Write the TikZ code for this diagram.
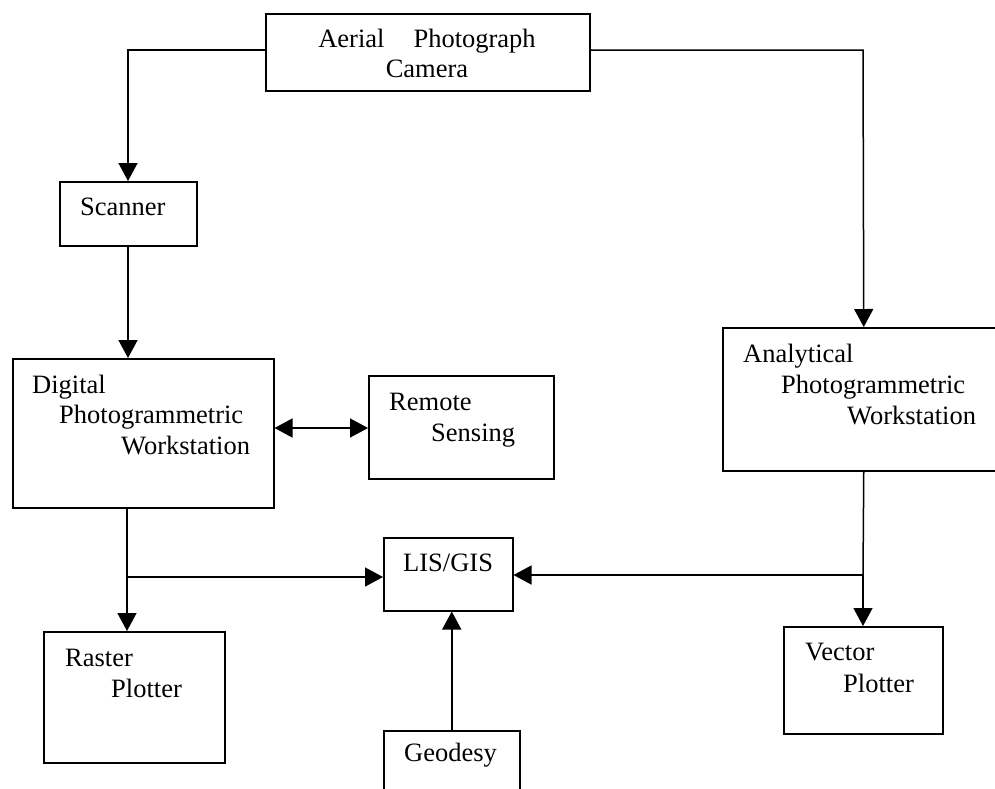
\documentclass[tikz,border=0pt]{standalone}
\usepackage{fontspec}
\setmainfont{Liberation Serif}
\usetikzlibrary{arrows.meta}
\begin{document}
\begin{tikzpicture}[x=1pt,y=-1pt,
  box/.style={draw, line width=1.5pt, inner sep=0pt, anchor=north west},
  lbl/.style={inner sep=0pt, anchor=base west, font=\fontsize{26.5}{30.5}\selectfont},
  conn/.style={line width=1.5pt},
  arr/.style={conn, -{Triangle[length=18pt,width=19pt]}},
  darr/.style={conn, {Triangle[length=18pt,width=19pt]}-{Triangle[length=18pt,width=19pt]}}]
\useasboundingbox (0,0) rectangle (995,788);
\clip (0,0) rectangle (995,788);
% boxes
\node[box, minimum width=324pt, minimum height=77pt] (cam) at (265,13) {};
\node[box, minimum width=137pt, minimum height=64pt] (scan) at (59,181) {};
\node[box, minimum width=261pt, minimum height=149pt] (dpw) at (12,358) {};
\node[box, minimum width=185pt, minimum height=103pt] (rs) at (368,375) {};
\node[box, minimum width=282pt, minimum height=143pt] (apw) at (722,327) {};
\node[box, minimum width=129pt, minimum height=73pt] (lis) at (383,537) {};
\node[box, minimum width=136pt, minimum height=80pt] (geo) at (383,730) {};
\node[box, minimum width=181pt, minimum height=131pt] (rp) at (43,631) {};
\node[box, minimum width=159pt, minimum height=107pt] (vp) at (783,626) {};
% texts
\node[lbl, anchor=base] (cam-t1) at (427,47) {Aerial\hspace{29pt}Photograph};
\node[lbl, anchor=base] (cam-t2) at (427,77) {Camera};
\node[lbl] (scan-t) at (80,215) {Scanner};
\node[lbl] (dpw-t1) at (32,393) {Digital};
\node[lbl] (dpw-t2) at (59,423) {Photogrammetric};
\node[lbl] (dpw-t3) at (121,454) {Workstation};
\node[lbl] (rs-t1) at (389,410) {Remote};
\node[lbl] (rs-t2) at (431,441) {Sensing};
\node[lbl] (apw-t1) at (743,362) {Analytical};
\node[lbl] (apw-t2) at (781,393) {Photogrammetric};
\node[lbl] (apw-t3) at (847,424) {Workstation};
\node[lbl] (lis-t) at (403,571) {LIS/GIS};
\node[lbl] (geo-t) at (404,761) {Geodesy};
\node[lbl] (rp-t1) at (65,666) {Raster};
\node[lbl] (rp-t2) at (111,697) {Plotter};
\node[lbl] (vp-t1) at (805,660) {Vector};
\node[lbl] (vp-t2) at (843,692) {Plotter};
% junctions
\coordinate (jl) at (127,577);
\coordinate (jr) at (863,575);
\coordinate (ctl) at (128,50);
\coordinate (ctr) at (863,50);
% connectors
\draw[arr] (cam.west |- ctl) -- (ctl) -- (ctl |- scan.north);
\draw[arr] (cam.east |- ctr) -- (ctr) -- (apw.north);
\draw[arr] (scan.south -| ctl) -- (ctl |- dpw.north);
\draw[darr] (rs.west |- 0,428) -- (dpw.east |- 0,428);
\draw[conn] (jl |- dpw.south) -- (jl);
\draw[arr] (jl) -- (jl |- rp.north);
\draw[arr] (jl) -- (jl -| lis.west);
\draw[conn] (apw.south) -- (jr);
\draw[arr] (jr) -- (jr |- vp.north);
\draw[arr] (jr) -- (jr -| lis.east);
\draw[arr] (geo.north) -- (geo.north |- lis.south);
\end{tikzpicture}
\end{document}
